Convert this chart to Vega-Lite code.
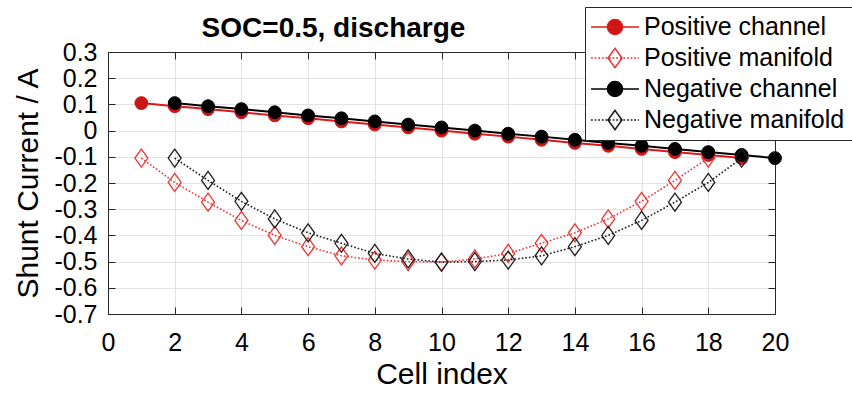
{
  "$schema": "https://vega.github.io/schema/vega-lite/v6.json",
  "autosize": {"type": "none"},
  "padding": {"left": 108, "top": 52, "right": 77, "bottom": 80},
  "width": 667,
  "height": 262,
  "background": "white",
  "config": {
    "font": "Liberation Sans",
    "view": {"stroke": "#262626", "strokeWidth": 1},
    "axis": {
      "domainColor": "#262626",
      "tickColor": "#262626",
      "tickSize": -7,
      "labelColor": "#000000",
      "labelFontSize": 25,
      "labelFlush": false,
      "labelOverlap": false,
      "titleColor": "#000000",
      "titleFontSize": 30,
      "titleFontWeight": "normal",
      "gridColor": "#e3e3e3",
      "gridWidth": 1
    }
  },
  "data": {
    "values": [
      {"cell": 1, "series": "Positive channel", "current": 0.105},
      {"cell": 2, "series": "Positive channel", "current": 0.093},
      {"cell": 3, "series": "Positive channel", "current": 0.082},
      {"cell": 4, "series": "Positive channel", "current": 0.070},
      {"cell": 5, "series": "Positive channel", "current": 0.058},
      {"cell": 6, "series": "Positive channel", "current": 0.047},
      {"cell": 7, "series": "Positive channel", "current": 0.035},
      {"cell": 8, "series": "Positive channel", "current": 0.023},
      {"cell": 9, "series": "Positive channel", "current": 0.012},
      {"cell": 10, "series": "Positive channel", "current": 0.000},
      {"cell": 11, "series": "Positive channel", "current": -0.012},
      {"cell": 12, "series": "Positive channel", "current": -0.023},
      {"cell": 13, "series": "Positive channel", "current": -0.035},
      {"cell": 14, "series": "Positive channel", "current": -0.047},
      {"cell": 15, "series": "Positive channel", "current": -0.058},
      {"cell": 16, "series": "Positive channel", "current": -0.070},
      {"cell": 17, "series": "Positive channel", "current": -0.082},
      {"cell": 18, "series": "Positive channel", "current": -0.093},
      {"cell": 19, "series": "Positive channel", "current": -0.105},
      {"cell": 1, "series": "Positive manifold", "current": -0.105},
      {"cell": 2, "series": "Positive manifold", "current": -0.198},
      {"cell": 3, "series": "Positive manifold", "current": -0.273},
      {"cell": 4, "series": "Positive manifold", "current": -0.343},
      {"cell": 5, "series": "Positive manifold", "current": -0.400},
      {"cell": 6, "series": "Positive manifold", "current": -0.443},
      {"cell": 7, "series": "Positive manifold", "current": -0.478},
      {"cell": 8, "series": "Positive manifold", "current": -0.494},
      {"cell": 9, "series": "Positive manifold", "current": -0.500},
      {"cell": 10, "series": "Positive manifold", "current": -0.502},
      {"cell": 11, "series": "Positive manifold", "current": -0.490},
      {"cell": 12, "series": "Positive manifold", "current": -0.469},
      {"cell": 13, "series": "Positive manifold", "current": -0.430},
      {"cell": 14, "series": "Positive manifold", "current": -0.390},
      {"cell": 15, "series": "Positive manifold", "current": -0.337},
      {"cell": 16, "series": "Positive manifold", "current": -0.270},
      {"cell": 17, "series": "Positive manifold", "current": -0.190},
      {"cell": 18, "series": "Positive manifold", "current": -0.105},
      {"cell": 2, "series": "Negative channel", "current": 0.105},
      {"cell": 3, "series": "Negative channel", "current": 0.093},
      {"cell": 4, "series": "Negative channel", "current": 0.082},
      {"cell": 5, "series": "Negative channel", "current": 0.070},
      {"cell": 6, "series": "Negative channel", "current": 0.058},
      {"cell": 7, "series": "Negative channel", "current": 0.047},
      {"cell": 8, "series": "Negative channel", "current": 0.035},
      {"cell": 9, "series": "Negative channel", "current": 0.023},
      {"cell": 10, "series": "Negative channel", "current": 0.012},
      {"cell": 11, "series": "Negative channel", "current": 0.000},
      {"cell": 12, "series": "Negative channel", "current": -0.012},
      {"cell": 13, "series": "Negative channel", "current": -0.023},
      {"cell": 14, "series": "Negative channel", "current": -0.035},
      {"cell": 15, "series": "Negative channel", "current": -0.047},
      {"cell": 16, "series": "Negative channel", "current": -0.058},
      {"cell": 17, "series": "Negative channel", "current": -0.070},
      {"cell": 18, "series": "Negative channel", "current": -0.082},
      {"cell": 19, "series": "Negative channel", "current": -0.093},
      {"cell": 20, "series": "Negative channel", "current": -0.105},
      {"cell": 2, "series": "Negative manifold", "current": -0.105},
      {"cell": 3, "series": "Negative manifold", "current": -0.190},
      {"cell": 4, "series": "Negative manifold", "current": -0.270},
      {"cell": 5, "series": "Negative manifold", "current": -0.337},
      {"cell": 6, "series": "Negative manifold", "current": -0.390},
      {"cell": 7, "series": "Negative manifold", "current": -0.430},
      {"cell": 8, "series": "Negative manifold", "current": -0.469},
      {"cell": 9, "series": "Negative manifold", "current": -0.490},
      {"cell": 10, "series": "Negative manifold", "current": -0.502},
      {"cell": 11, "series": "Negative manifold", "current": -0.500},
      {"cell": 12, "series": "Negative manifold", "current": -0.494},
      {"cell": 13, "series": "Negative manifold", "current": -0.478},
      {"cell": 14, "series": "Negative manifold", "current": -0.443},
      {"cell": 15, "series": "Negative manifold", "current": -0.400},
      {"cell": 16, "series": "Negative manifold", "current": -0.343},
      {"cell": 17, "series": "Negative manifold", "current": -0.273},
      {"cell": 18, "series": "Negative manifold", "current": -0.198},
      {"cell": 19, "series": "Negative manifold", "current": -0.105}
    ]
  },
  "resolve": {"axis": {"x": "independent", "y": "independent"}},
  "layer": [
    {
      "transform": [{"filter": "datum.series === 'Positive channel'"}],
      "mark": {"type": "line", "stroke": "#e01818", "strokeWidth": 2},
      "encoding": {
        "x": {
          "field": "cell", "type": "quantitative",
          "scale": {"domain": [0, 20], "nice": false, "zero": false},
          "axis": {"orient": "bottom", "values": [0, 2, 4, 6, 8, 10, 12, 14, 16, 18, 20], "grid": true, "labelPadding": 23, "title": "Cell index", "titlePadding": 4}
        },
        "y": {
          "field": "current", "type": "quantitative",
          "scale": {"domain": [-0.7, 0.3], "nice": false, "zero": false},
          "axis": {"orient": "left", "values": [-0.7, -0.6, -0.5, -0.4, -0.3, -0.2, -0.1, 0, 0.1, 0.2, 0.3], "grid": true, "labelPadding": 18, "labelExpr": "toString(round(datum.value * 10) / 10)", "title": "Shunt Current / A", "titlePadding": 10}
        }
      }
    },
    {
      "transform": [{"filter": "datum.series === 'Positive channel'"}],
      "mark": {"type": "point", "shape": "circle", "filled": true, "size": 165, "fill": "#cc1616", "stroke": "#cc1616", "strokeWidth": 1, "opacity": 1},
      "encoding": {
        "x": {
          "field": "cell", "type": "quantitative",
          "axis": {
            "orient": "top", "values": [0, 2, 4, 6, 8, 10, 12, 14, 16, 18, 20], "labels": false, "grid": false,
            "title": "SOC=0.5, discharge", "titleFontSize": 28, "titleFontWeight": "bold",
            "titleX": 225, "titleY": -16, "titleAlign": "center", "titleBaseline": "alphabetic"
          }
        },
        "y": {"field": "current", "type": "quantitative", "axis": {"orient": "right", "values": [-0.7, -0.6, -0.5, -0.4, -0.3, -0.2, -0.1, 0, 0.1, 0.2, 0.3], "labels": false, "grid": false, "title": null}}
      }
    },
    {
      "transform": [{"filter": "datum.series === 'Positive manifold'"}],
      "mark": {"type": "line", "stroke": "#f03434", "strokeWidth": 1.6, "strokeDash": [1.6, 2]},
      "encoding": {
        "x": {"field": "cell", "type": "quantitative", "axis": null},
        "y": {"field": "current", "type": "quantitative", "axis": null}
      }
    },
    {
      "transform": [{"filter": "datum.series === 'Positive manifold'"}],
      "mark": {"type": "point", "shape": "M0,-1L0.72,0L0,1L-0.72,0Z", "filled": false, "size": 324, "fill": "transparent", "stroke": "#f03434", "strokeWidth": 1.3, "opacity": 1},
      "encoding": {
        "x": {"field": "cell", "type": "quantitative", "axis": null},
        "y": {"field": "current", "type": "quantitative", "axis": null}
      }
    },
    {
      "transform": [{"filter": "datum.series === 'Negative channel'"}],
      "mark": {"type": "line", "stroke": "#000000", "strokeWidth": 2},
      "encoding": {
        "x": {"field": "cell", "type": "quantitative", "axis": null},
        "y": {"field": "current", "type": "quantitative", "axis": null}
      }
    },
    {
      "transform": [{"filter": "datum.series === 'Negative channel'"}],
      "mark": {"type": "point", "shape": "circle", "filled": true, "size": 165, "fill": "#000000", "stroke": "#000000", "strokeWidth": 1, "opacity": 1},
      "encoding": {
        "x": {"field": "cell", "type": "quantitative", "axis": null},
        "y": {"field": "current", "type": "quantitative", "axis": null}
      }
    },
    {
      "transform": [{"filter": "datum.series === 'Negative manifold'"}],
      "mark": {"type": "line", "stroke": "#1e1e1e", "strokeWidth": 1.6, "strokeDash": [1.6, 2]},
      "encoding": {
        "x": {"field": "cell", "type": "quantitative", "axis": null},
        "y": {"field": "current", "type": "quantitative", "axis": null}
      }
    },
    {
      "transform": [{"filter": "datum.series === 'Negative manifold'"}],
      "mark": {"type": "point", "shape": "M0,-1L0.72,0L0,1L-0.72,0Z", "filled": false, "size": 324, "fill": "transparent", "stroke": "#1e1e1e", "strokeWidth": 1.3, "opacity": 1},
      "encoding": {
        "x": {"field": "cell", "type": "quantitative", "axis": null},
        "y": {"field": "current", "type": "quantitative", "axis": null}
      }
    },
    {
      "mark": {"type": "point", "opacity": 0, "size": 576},
      "encoding": {
        "x": {"field": "cell", "type": "quantitative", "axis": null},
        "y": {"field": "current", "type": "quantitative", "axis": null},
        "shape": {
          "field": "series", "type": "nominal",
          "scale": {
            "domain": ["Positive channel", "Positive manifold", "Negative channel", "Negative manifold"],
            "range": [
              "M-2,0H2M0.625,0C0.625,0.345,0.345,0.625,0,0.625C-0.345,0.625,-0.625,0.345,-0.625,0C-0.625,-0.345,-0.345,-0.625,0,-0.625C0.345,-0.625,0.625,-0.345,0.625,0Z",
              "M-2,0H-1.85M-1.7,0H-1.55M-1.4,0H-1.25M-1.1,0H-0.95M-0.8,0H-0.65M-0.5,0H-0.35M-0.2,0H-0.05M0.1,0H0.25M0.4,0H0.55M0.7,0H0.85M1,0H1.15M1.3,0H1.45M1.6,0H1.75M1.9,0H2M0,-0.8L0.58,0L0,0.8L-0.58,0Z",
              "M-2,0H2M0.625,0C0.625,0.345,0.345,0.625,0,0.625C-0.345,0.625,-0.625,0.345,-0.625,0C-0.625,-0.345,-0.345,-0.625,0,-0.625C0.345,-0.625,0.625,-0.345,0.625,0Z",
              "M-2,0H-1.85M-1.7,0H-1.55M-1.4,0H-1.25M-1.1,0H-0.95M-0.8,0H-0.65M-0.5,0H-0.35M-0.2,0H-0.05M0.1,0H0.25M0.4,0H0.55M0.7,0H0.85M1,0H1.15M1.3,0H1.45M1.6,0H1.75M1.9,0H2M0,-0.8L0.58,0L0,0.8L-0.58,0Z"
            ]
          },
          "legend": {
            "orient": "none",
            "legendX": 477,
            "legendY": -45,
            "title": null,
            "padding": 7,
            "fillColor": "#ffffff",
            "strokeColor": "#262626",
            "cornerRadius": 0,
            "symbolSize": 576,
            "symbolOffset": 10,
            "symbolOpacity": 1,
            "symbolStrokeWidth": 1.6,
            "labelFont": "Liberation Sans",
            "labelFontSize": 25,
            "labelColor": "#000000",
            "labelOffset": 16,
            "labelLimit": 400,
            "rowPadding": 5
          }
        },
        "stroke": {
          "field": "series", "type": "nominal",
          "scale": {
            "domain": ["Positive channel", "Positive manifold", "Negative channel", "Negative manifold"],
            "range": ["#e01818", "#f03434", "#000000", "#1e1e1e"]
          }
        },
        "fill": {
          "field": "series", "type": "nominal",
          "scale": {
            "domain": ["Positive channel", "Positive manifold", "Negative channel", "Negative manifold"],
            "range": ["#cc1616", "transparent", "#000000", "transparent"]
          }
        }
      }
    }
  ]
}
